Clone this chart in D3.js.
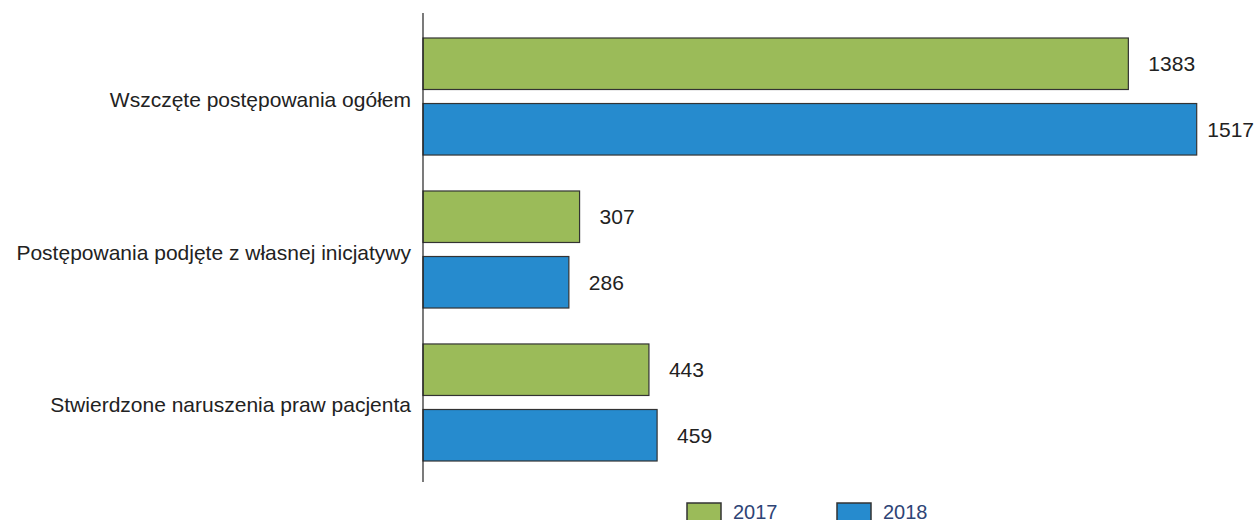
<!DOCTYPE html>
<html>
<head>
<meta charset="utf-8">
<script src="https://cdn.jsdelivr.net/npm/d3@7"></script>
<style>
  html, body { margin: 0; padding: 0; background: #fff; }
  svg { display: block; }
  text { font-family: "Liberation Sans", Arial, sans-serif; }
</style>
</head>
<body>
<svg id="chart" width="1256" height="520"></svg>
<script>
const categories = [
  "Wszczęte postępowania ogółem",
  "Postępowania podjęte z własnej inicjatywy",
  "Stwierdzone naruszenia praw pacjenta"
];
const seriesNames = ["2017", "2018"];
const values2017 = [1383, 307, 443];
const values2018 = [1517, 286, 459];
const seriesColors = ["#9BBB59", "#268BCE"];

const svg = d3.select("#chart");
const W = 1256;
const x0 = 423;
const x = d3.scaleLinear().domain([0, 1517]).range([x0, 1196.7]);
const y = d3.scaleBand().domain(categories).range([38, 461]).paddingInner(0.235).paddingOuter(0);
const ys = d3.scaleBand().domain(seriesNames).range([0, y.bandwidth()]).paddingInner(0.214).paddingOuter(0);

const series = [values2017, values2018];
const data = [];
categories.forEach((c, i) => {
  seriesNames.forEach((s, j) => data.push({ cat: c, s, v: series[j][i], color: seriesColors[j] }));
});

svg.selectAll("rect.bar").data(data).enter().append("rect")
  .attr("class", "bar")
  .attr("x", x(0))
  .attr("y", d => y(d.cat) + ys(d.s))
  .attr("width", d => x(d.v) - x(0))
  .attr("height", ys.bandwidth())
  .attr("fill", d => d.color)
  .attr("stroke", "#333")
  .attr("stroke-width", 1.2);

svg.selectAll("text.val").data(data).enter().append("text")
  .attr("class", "val")
  .attr("y", d => y(d.cat) + ys(d.s) + ys.bandwidth() / 2 + 7.7)
  .attr("font-size", 21)
  .attr("fill", "#222")
  .text(d => d.v)
  .attr("x", function(d) {
    const w = this.getComputedTextLength();
    return Math.min(x(d.v) + 20, W - 2 - w);
  });

// axis line
svg.append("line")
  .attr("x1", x0).attr("x2", x0)
  .attr("y1", 13).attr("y2", 482)
  .attr("stroke", "#222").attr("stroke-width", 1.2);

svg.selectAll("text.cat").data(categories).enter().append("text")
  .attr("class", "cat")
  .attr("x", 411)
  .attr("y", d => y(d) + y.bandwidth() / 2 + 10)
  .attr("text-anchor", "end")
  .attr("font-size", 21)
  .attr("fill", "#222")
  .text(d => d);

// legend
const legend = svg.append("g");
const lx = [687, 837];
seriesNames.forEach((s, j) => {
  legend.append("rect")
    .attr("x", lx[j]).attr("y", 503)
    .attr("width", 34).attr("height", 20)
    .attr("fill", seriesColors[j])
    .attr("stroke", "#333").attr("stroke-width", 1.5);
  legend.append("text")
    .attr("x", lx[j] + 46).attr("y", 519)
    .attr("font-size", 20)
    .attr("fill", "#2E4476")
    .text(s);
});
</script>
</body>
</html>
